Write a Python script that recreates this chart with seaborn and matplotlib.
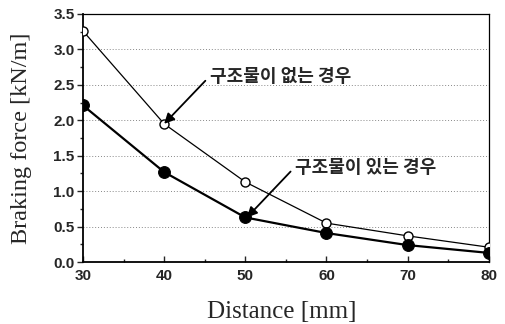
import numpy as np
import pandas as pd
import matplotlib
matplotlib.use("Agg")
import matplotlib.pyplot as plt
import seaborn as sns
from matplotlib.ticker import MultipleLocator

# Dados
distancia = [30, 40, 50, 60, 70, 80]
sem_estrutura = [3.26, 1.95, 1.13, 0.55, 0.37, 0.21]
com_estrutura = [2.21, 1.27, 0.63, 0.41, 0.24, 0.13]
rotulo_sem = "구조물이 없는 경우"
rotulo_com = "구조물이 있는 경우"

sns.set_style("ticks")
plt.rcParams['font.family'] = ['Liberation Sans', 'DejaVu Sans']

df = pd.DataFrame({"Distance": distancia + distancia,
                   "Force": sem_estrutura + com_estrutura,
                   "Caso": [rotulo_sem] * 6 + [rotulo_com] * 6})

fig = plt.figure(figsize=(5.06, 3.24), dpi=100)
ax = fig.add_axes([0.164, 0.191, 0.802, 0.766])

# Linha sem estrutura (círculos abertos)
sns.lineplot(data=df[df["Caso"] == rotulo_sem], x="Distance", y="Force", ax=ax,
             color="black", linewidth=0.9, marker="o", markersize=6.5,
             markerfacecolor="white", markeredgecolor="black", markeredgewidth=1.0,
             zorder=3)
# Linha com estrutura (círculos cheios)
sns.lineplot(data=df[df["Caso"] == rotulo_com], x="Distance", y="Force", ax=ax,
             color="black", linewidth=1.6, marker="o", markersize=8.5,
             markerfacecolor="black", markeredgecolor="black", zorder=3)

ax.set_xlim(30, 80)
ax.set_ylim(0, 3.5)
ax.xaxis.set_major_locator(MultipleLocator(10))
ax.xaxis.set_minor_locator(MultipleLocator(5))
ax.yaxis.set_major_locator(MultipleLocator(0.5))
ax.yaxis.set_minor_locator(MultipleLocator(0.25))
ax.yaxis.set_major_formatter(matplotlib.ticker.FormatStrFormatter("%.1f"))
ax.grid(axis='y', linestyle=(0, (1, 2)), color="#888888", linewidth=0.7)

ax.tick_params(axis='x', which='major', direction='in', length=4, width=1.0, pad=5)
ax.tick_params(axis='x', which='minor', direction='in', length=2, width=1.0)
ax.tick_params(axis='y', which='major', direction='out', length=4, width=1.0, pad=2)
ax.tick_params(axis='y', which='minor', direction='out', length=2, width=1.0)
for lbl in ax.get_xticklabels() + ax.get_yticklabels():
    lbl.set_fontweight("bold")
    lbl.set_fontsize(11)

for s in ax.spines.values():
    s.set_linewidth(1.3)
    s.set_color("black")
ax.spines['right'].set_linewidth(0.9)
ax.spines['top'].set_linewidth(0.9)

ax.set_xlabel("Distance [mm]", family="Liberation Serif", fontsize=18)
ax.set_ylabel("Braking force [kN/m]", family="Liberation Serif", fontsize=17.5)
ax.xaxis.set_label_coords(0.49, -0.155)
ax.yaxis.set_label_coords(-0.126, 0.50)

# Anotações
ax.annotate(rotulo_sem, xy=(distancia[1], sem_estrutura[1]), xytext=(45.6, 2.62),
            family=["Noto Sans CJK KR", "DejaVu Sans"], fontsize=13, fontweight="bold",
            va="center", ha="left",
            arrowprops=dict(arrowstyle="-|>", color="black", lw=1.3, mutation_scale=15,
                            shrinkA=1, shrinkB=0, relpos=(0, 0.5)))
ax.annotate(rotulo_com, xy=(50.2, 0.63), xytext=(56.1, 1.34),
            family=["Noto Sans CJK KR", "DejaVu Sans"], fontsize=13, fontweight="bold",
            va="center", ha="left",
            arrowprops=dict(arrowstyle="-|>", color="black", lw=1.3, mutation_scale=15,
                            shrinkA=1, shrinkB=0, relpos=(0, 0.5)))

fig.savefig("out.png", dpi=100)
